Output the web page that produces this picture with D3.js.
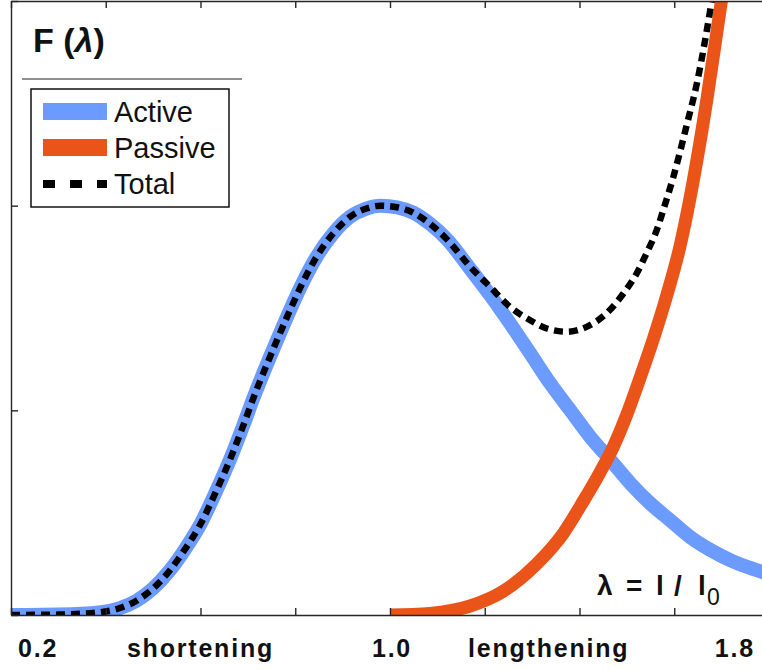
<!DOCTYPE html>
<html>
<head>
<meta charset="utf-8">
<script src="https://cdn.jsdelivr.net/npm/d3@7"></script>
<style>
  body { margin: 0; background: #fff; }
  svg { display: block; font-family: "Liberation Sans", Arial, Helvetica, sans-serif; }
</style>
</head>
<body>
<div id="root"></div>
<script>
// values (lambda = l / l0, F normalised)
const activeL = [0.20, 0.30, 0.39, 0.43, 0.465, 0.50, 0.536, 0.564, 0.599, 0.634, 0.662, 0.690, 0.711, 0.740, 0.761, 0.789, 0.817, 0.845, 0.880, 0.916, 0.950, 0.980, 1.015, 1.049, 1.085, 1.12, 1.169, 1.211, 1.253, 1.296, 1.338, 1.380, 1.422, 1.465, 1.507, 1.549, 1.591, 1.633, 1.676, 1.718, 1.76, 1.80];
const activeF = [0.0, 0.001, 0.007, 0.017, 0.035, 0.065, 0.110, 0.155, 0.220, 0.305, 0.379, 0.462, 0.528, 0.612, 0.670, 0.745, 0.815, 0.875, 0.932, 0.973, 0.993, 1.0, 0.996, 0.983, 0.955, 0.918, 0.846, 0.782, 0.713, 0.639, 0.566, 0.501, 0.436, 0.379, 0.322, 0.273, 0.232, 0.191, 0.159, 0.134, 0.115, 0.10];

const passiveL = [1.0, 1.084, 1.169, 1.239, 1.309, 1.366, 1.408, 1.443, 1.471, 1.50, 1.528, 1.556, 1.584, 1.612, 1.64, 1.669, 1.697, 1.72];
const passiveF = [0.0, 0.004, 0.022, 0.058, 0.124, 0.200, 0.278, 0.348, 0.410, 0.490, 0.580, 0.675, 0.780, 0.900, 1.06, 1.26, 1.48, 1.66];

const totalL = [0.20, 0.30, 0.39, 0.43, 0.465, 0.50, 0.536, 0.564, 0.599, 0.634, 0.662, 0.690, 0.711, 0.740, 0.761, 0.789, 0.817, 0.845, 0.880, 0.916, 0.950, 0.980, 1.015, 1.049, 1.085, 1.12, 1.169, 1.211, 1.253, 1.296, 1.331, 1.373, 1.415, 1.457, 1.493, 1.521, 1.542, 1.563, 1.577, 1.598, 1.627, 1.648, 1.669, 1.69];
const totalF = [0.0, 0.001, 0.007, 0.017, 0.035, 0.065, 0.110, 0.155, 0.220, 0.305, 0.379, 0.462, 0.528, 0.612, 0.670, 0.745, 0.815, 0.875, 0.932, 0.973, 0.993, 1.0, 0.996, 0.983, 0.955, 0.918, 0.851, 0.802, 0.753, 0.720, 0.700, 0.692, 0.704, 0.737, 0.786, 0.835, 0.885, 0.940, 0.990, 1.07, 1.20, 1.30, 1.43, 1.58];

const xTicks = [0.2, 0.4, 0.6, 0.8, 1.0, 1.2, 1.4, 1.6, 1.8];
const yTicks = [0, 0.5, 1.0, 1.5];

const xLabels = ["0.2", "shortening", "1.0", "lengthening", "1.8"];
const xLabelAt = [0.2, 0.6, 1.0, 1.335, 1.8];

const seriesNames = ["Active", "Passive", "Total"];

const width = 762;
const height = 670;

const blue = "#6b9bff";
const orange = "#ea5418";

var svg = d3.select("#root").append("svg")
  .attr("width", width)
  .attr("height", height);

var x = d3.scaleLinear().domain([0.2, 1.8]).range([11, 769]);
var y = d3.scaleLinear().domain([0, 1.5]).range([615, 1]);

svg.append("clipPath")
  .attr("id", "plot-clip")
  .append("rect")
  .attr("x", x(0.2))
  .attr("y", y(1.5))
  .attr("width", x(1.8) - x(0.2))
  .attr("height", y(0) - y(1.5));

var line = d3.line()
  .x(d => x(d[0]))
  .y(d => y(d[1]))
  .curve(d3.curveMonotoneX);

var curves = svg.append("g").attr("clip-path", "url(#plot-clip)");

curves.append("path")
  .datum(d3.zip(activeL, activeF))
  .attr("d", line)
  .attr("fill", "none")
  .attr("stroke", blue)
  .attr("stroke-width", 14);

curves.append("path")
  .datum(d3.zip(passiveL, passiveF))
  .attr("d", line)
  .attr("fill", "none")
  .attr("stroke", orange)
  .attr("stroke-width", 13);

curves.append("path")
  .datum(d3.zip(totalL, totalF))
  .attr("d", line)
  .attr("fill", "none")
  .attr("stroke", "#000")
  .attr("stroke-width", 6.5)
  .attr("stroke-dasharray", "9,6");

// box with inward ticks
var axisColor = "#262626";
svg.append("g")
  .attr("transform", `translate(0,${y(0)})`)
  .call(d3.axisBottom(x).tickValues(xTicks).tickSizeInner(-7).tickSizeOuter(0).tickFormat(""));
svg.append("g")
  .attr("transform", `translate(0,${y(1.5)})`)
  .call(d3.axisTop(x).tickValues(xTicks).tickSizeInner(-7).tickSizeOuter(0).tickFormat(""));
svg.append("g")
  .attr("transform", `translate(${x(0.2)},0)`)
  .call(d3.axisLeft(y).tickValues(yTicks).tickSizeInner(-7).tickSizeOuter(0).tickFormat(""));
svg.append("g")
  .attr("transform", `translate(${x(1.8)},0)`)
  .call(d3.axisRight(y).tickValues(yTicks).tickSizeInner(-7).tickSizeOuter(0).tickFormat(""));
svg.selectAll(".domain, .tick line")
  .attr("stroke", axisColor)
  .attr("stroke-width", 1.4);

// x labels under the axis
var anchors = ["start", "middle", "middle", "middle", "end"];
var nudges = [7, 0, 2, 0, -14];
svg.append("g").selectAll("text")
  .data(xLabels)
  .enter()
  .append("text")
  .attr("x", (d, i) => x(xLabelAt[i]) + nudges[i])
  .attr("y", 657)
  .attr("text-anchor", (d, i) => anchors[i])
  .attr("font-size", 25)
  .attr("font-weight", "bold")
  .attr("letter-spacing", 1.8)
  .attr("fill", "#111")
  .text(d => d);

// title F(lambda)
var title = svg.append("text")
  .attr("x", 33)
  .attr("y", 52)
  .attr("font-size", 34)
  .attr("font-weight", "bold")
  .attr("fill", "#111");
title.append("tspan").text("F (");
title.append("tspan").attr("font-style", "italic").text("λ");
title.append("tspan").text(")");

svg.append("line")
  .attr("x1", 22).attr("x2", 242)
  .attr("y1", 79).attr("y2", 79)
  .attr("stroke", "#222")
  .attr("stroke-width", 1.2);

// legend
var legend = svg.append("g");
legend.append("rect")
  .attr("x", 31).attr("y", 89)
  .attr("width", 198).attr("height", 118)
  .attr("fill", "#fff")
  .attr("stroke", "#111")
  .attr("stroke-width", 1.5);

var legendY = [111.5, 147.5, 184];
var legendStroke = [blue, orange, "#000"];
var legendWidth = [17, 17, 8];
var legendDash = [null, null, "12,15"];

var items = legend.selectAll("g.item")
  .data(seriesNames)
  .enter()
  .append("g")
  .attr("class", "item");

items.append("line")
  .attr("x1", 43).attr("x2", 107)
  .attr("y1", (d, i) => legendY[i])
  .attr("y2", (d, i) => legendY[i])
  .attr("stroke", (d, i) => legendStroke[i])
  .attr("stroke-width", (d, i) => legendWidth[i])
  .attr("stroke-dasharray", (d, i) => legendDash[i]);

items.append("text")
  .attr("x", 114)
  .attr("y", (d, i) => legendY[i] + 10)
  .attr("font-size", 29)
  .attr("fill", "#111")
  .text(d => d);

// lambda = l / l0
var ax = x(1.437);
var note = svg.append("g")
  .attr("font-weight", "bold")
  .attr("font-size", 28)
  .attr("fill", "#111");
note.append("text").attr("x", ax).attr("y", 595).text("λ");
note.append("text").attr("x", ax + 29).attr("y", 595).text("=");
note.append("text").attr("x", ax + 59).attr("y", 595).text("l");
note.append("text").attr("x", ax + 77).attr("y", 595).text("/");
note.append("text").attr("x", ax + 101).attr("y", 595).text("l");
note.append("text").attr("x", ax + 110).attr("y", 605)
  .attr("font-size", 23).attr("font-weight", "normal").text("0");
</script>
</body>
</html>
